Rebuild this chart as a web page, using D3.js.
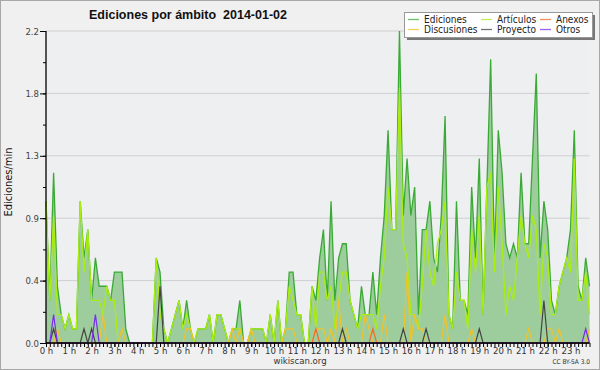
<!DOCTYPE html>
<html>
<head>
<meta charset="utf-8">
<script src="https://cdn.jsdelivr.net/npm/d3@7"></script>
<style>
  body { margin: 0; background: #f0f0f0; }
  svg { display: block; font-family: "DejaVu Sans", sans-serif; }
  .narrow { font-family: "DejaVu Sans Condensed", "DejaVu Sans", sans-serif; font-stretch: condensed; }
</style>
</head>
<body>
<svg id="chart" width="600" height="370"></svg>
<script>
// one value every 10 minutes, 144 slots for the day (edits/min)
const hourLabels = d3.range(0, 24).map(h => `${h} h`);
const yTicks = [0, 0.44, 0.88, 1.32, 1.76, 2.2];
const yTickLabels = ["0.0", "0.4", "0.9", "1.3", "1.8", "2.2"];

const ediciones = [
  1.0,0.3,1.2,0.4,0.2,0.1,0.2,0.1,0.1,1.0,0.6,0.8,
  0.3,0.6,0.4,0.4,0.4,0.3,0.5,0.5,0.5,0.1,0,0,
  0,0,0,0,0,0.6,0.5,0.1,0,0.1,0.2,0.3,
  0.1,0.3,0.1,0,0.1,0.1,0.1,0.2,0,0.2,0.2,0.1,
  0,0.1,0.1,0.3,0,0,0.1,0.1,0.1,0.1,0,0.2,
  0,0.3,0,0.1,0.5,0.5,0.2,0.2,0,0,0.4,0.3,
  0.6,0.8,0.3,1.0,0.3,0.6,0.7,0.7,0.3,0.2,0.1,0.4,
  0.2,0.2,0.5,0.2,0.6,0.9,1.5,0.8,0.8,2.2,0.9,1.3,
  0.9,1.1,0.2,0.8,0.8,1.0,0.6,0.5,0.9,1.6,0.2,0.1,
  1.0,0.3,0.3,0.2,1.1,0.6,1.3,0.2,1.1,2.0,0.6,1.5,
  1.2,0.7,0.6,0.7,0.6,1.2,0.7,0.7,1.3,1.9,0.6,1.0,
  0.8,0.3,0.2,0.4,0.5,0.6,0.8,1.5,0.4,0.3,0.6,0.4
];
const articulos = [
  1.0,0.3,0.9,0.2,0.2,0.1,0.2,0.1,0.1,1.0,0.5,0.8,
  0.3,0.3,0.3,0.2,0.4,0.3,0.3,0,0,0,0,0,
  0,0,0,0,0,0.6,0.2,0.1,0,0.1,0.2,0.3,
  0.1,0.2,0.1,0,0.1,0.1,0.1,0.2,0,0.2,0.2,0.1,
  0,0.1,0.1,0.1,0,0,0.1,0.1,0.1,0.1,0,0.2,
  0,0.3,0,0.1,0.4,0.3,0.2,0.2,0,0,0.4,0.1,
  0.5,0.5,0.3,0.4,0.1,0.3,0.5,0.5,0.3,0.2,0.1,0.2,
  0.2,0.2,0.2,0.1,0.4,0.6,1.1,0.8,0.8,1.8,0.7,0.6,
  0.2,0.2,0.1,0.4,0.8,0.5,0.4,0.7,0.8,1.0,0.2,0.1,
  0.5,0.3,0.3,0.1,0.8,0.5,0.9,0.2,1.1,1.2,0.5,1.1,
  0.7,0.2,0.4,0.3,0.6,0.9,0.7,0.6,0.9,0.8,0.2,0.7,
  0.6,0.2,0.2,0.4,0.5,0.6,0.5,1.3,0.3,0.3,0.5,0.2
];
const discusiones = [
  0,0,0,0.1,0,0,0,0,0,0,0,0,
  0,0,0,0.2,0,0,0,0,0.1,0,0,0,
  0,0,0,0,0,0,0,0,0,0,0,0,
  0,0.1,0.1,0,0,0,0,0,0,0,0,0,
  0,0.1,0,0.1,0,0,0.1,0,0,0,0,0,
  0,0,0,0.1,0.1,0.1,0,0,0,0,0,0.1,
  0.1,0.1,0,0.1,0,0.3,0,0.1,0,0,0,0,
  0.2,0.1,0,0,0,0.2,0,0,0,0,0,0.5,
  0,0.2,0.1,0.1,0,0,0,0,0,0.2,0,0,
  0,0,0,0,0.1,0,0,0,0,0,0,0,
  0,0,0,0,0,0,0,0.1,0,0,0,0,
  0.1,0.1,0,0.1,0,0,0,0,0,0,0,0.1
];
const proyecto = [
  0,0,0.1,0,0,0,0,0,0,0,0.1,0,
  0.1,0,0,0,0,0,0,0,0,0,0,0,
  0,0,0,0,0,0,0.4,0,0,0,0,0,
  0,0,0,0,0,0,0,0,0,0,0,0,
  0,0,0,0,0,0,0,0,0,0,0,0,
  0,0,0,0,0,0,0,0,0,0,0,0,
  0,0,0,0,0,0,0.1,0,0,0,0,0,
  0,0,0,0,0,0,0,0,0,0,0.1,0,
  0,0,0,0,0.1,0,0,0,0,0,0,0,
  0,0,0,0,0,0,0.1,0,0,0,0,0,
  0,0,0,0,0,0,0,0,0,0,0,0.3,
  0,0,0,0,0,0,0,0,0,0,0,0
];
const anexos = [
  0,0,0,0,0,0,0,0,0,0,0,0,
  0,0,0,0,0,0,0,0,0,0,0,0,
  0,0,0,0,0,0,0,0,0,0,0,0,
  0,0,0,0,0,0,0,0,0,0,0,0,
  0,0,0,0,0,0,0,0,0,0,0,0,
  0,0,0,0,0,0,0,0,0,0,0,0.1,
  0,0,0,0,0,0,0,0,0,0,0,0,
  0,0,0.1,0,0,0,0,0,0,0,0,0,
  0,0,0,0,0,0,0,0,0,0,0,0,
  0,0,0,0,0,0,0,0,0,0,0,0,
  0,0,0,0,0,0,0,0,0,0,0,0,
  0,0,0,0,0,0,0,0,0,0,0,0
];
const otros = [
  0,0,0.2,0,0,0,0,0,0,0,0,0,
  0,0.2,0,0,0,0,0,0,0,0,0,0,
  0,0,0,0,0,0,0,0,0,0,0,0,
  0,0,0,0,0,0,0,0,0,0,0,0,
  0,0,0,0,0,0,0,0,0,0,0,0,
  0,0,0,0,0,0,0,0,0,0,0,0,
  0,0,0,0,0,0,0,0,0,0,0,0,
  0,0,0,0,0,0,0,0,0,0,0,0,
  0,0,0,0,0,0,0,0,0,0,0,0,
  0,0,0,0,0,0,0,0,0,0,0,0,
  0,0,0,0,0,0,0,0,0,0,0,0,
  0,0,0,0,0,0,0,0,0,0,0.1,0
];

const seriesNames = ["Ediciones", "Artículos", "Anexos", "Discusiones", "Proyecto", "Otros"];
const seriesColors = {
  "Ediciones": "#3aaa35",
  "Artículos": "#aaee10",
  "Anexos": "#f06a2a",
  "Discusiones": "#f2c22a",
  "Proyecto": "#444444",
  "Otros": "#7a2cf0"
};

const svg = d3.select("#chart");
const W = 600, H = 370;
const plotLeft = 46, plotRight = 589.5, plotTop = 31, plotBottom = 343;

svg.append("rect").attr("x", 0.5).attr("y", 0.5).attr("width", W - 1).attr("height", H - 1)
  .attr("fill", "#f0f0f0").attr("stroke", "#a8a8a8");
svg.append("rect").attr("x", plotLeft).attr("y", plotTop)
  .attr("width", plotRight - plotLeft).attr("height", plotBottom - plotTop)
  .attr("fill", "#eeeff1");

const x = d3.scaleLinear().domain([0, 143]).range([plotLeft, plotRight]);
const y = d3.scaleLinear().domain([0, 2.2]).range([plotBottom, plotTop]);

// grid
svg.append("g").selectAll("line").data(yTicks.slice(1)).join("line")
  .attr("x1", plotLeft).attr("x2", plotRight)
  .attr("y1", d => y(d)).attr("y2", d => y(d))
  .attr("stroke", "#cfcfd2").attr("stroke-width", 1);

const idx = d3.range(144);
const area = d3.area().x(i => x(i)).y0(y(0)).y1(i => y(ediciones[i]));
const line = arr => d3.line().x(i => x(i)).y(i => y(arr[i]))(idx);

svg.append("path").attr("d", area(idx)).attr("fill", "#9dcd9d");
svg.append("path").attr("d", line(ediciones)).attr("fill", "none")
  .attr("stroke", seriesColors["Ediciones"]).attr("stroke-width", 1.3);
svg.append("path").attr("d", line(articulos)).attr("fill", "none")
  .attr("stroke", seriesColors["Artículos"]).attr("stroke-width", 1.3);
[[discusiones, "Discusiones"], [anexos, "Anexos"], [proyecto, "Proyecto"], [otros, "Otros"]].forEach(([arr, name]) => {
  svg.append("path").attr("d", line(arr)).attr("fill", "none")
    .attr("stroke", seriesColors[name]).attr("stroke-width", 1.2);
});

// axes
const yAxis = d3.axisLeft(y).tickValues(yTicks).tickSize(6).tickPadding(1)
  .tickFormat((d, i) => yTickLabels[i]);
const gy = svg.append("g").attr("transform", `translate(${plotLeft},0)`).call(yAxis);
gy.selectAll(".tick line").attr("stroke", "#000");
gy.select(".domain").attr("stroke", "#000").attr("stroke-width", 1.3).attr("d", `M0,${plotBottom}V${plotTop}`);
gy.selectAll("text").attr("class", "narrow").attr("font-size", 9.5).attr("fill", "#444");
svg.append("g").attr("transform", `translate(${plotLeft},0)`)
  .call(d3.axisLeft(y).tickValues(d3.range(11).map(k => k * 0.22)).tickSize(3).tickFormat(""))
  .call(g => g.select(".domain").remove());

const xAxis = d3.axisBottom(x).tickValues(idx.filter(i => i % 6 === 0)).tickSize(4).tickPadding(0)
  .tickFormat(i => hourLabels[i / 6]);
const gx = svg.append("g").attr("transform", `translate(0,${plotBottom})`).call(xAxis);
gx.select(".domain").attr("d", `M${plotLeft},0H${plotRight}`).attr("stroke", "#000").attr("stroke-width", 1.5);
gx.selectAll("text").attr("class", "narrow").attr("font-size", 9.5).attr("fill", "#333");
svg.append("g").attr("transform", `translate(0,${plotBottom})`)
  .call(d3.axisBottom(x).tickValues(idx).tickSize(4).tickFormat(""))
  .call(g => g.select(".domain").remove());

// titles
svg.append("text").attr("x", 188).attr("y", 19).attr("text-anchor", "middle")
  .style("white-space", "pre")
  .attr("font-family", "'Liberation Sans', Arial, sans-serif")
  .attr("font-size", 12.5).attr("font-weight", "bold").attr("fill", "#111")
  .text("Ediciones por ámbito  2014-01-02");
svg.append("text").attr("transform", "translate(12,182) rotate(-90)").attr("text-anchor", "middle")
  .attr("class", "narrow").attr("font-size", 11).attr("fill", "#111").text("Ediciones/min");
svg.append("text").attr("x", 300).attr("y", 364).attr("text-anchor", "middle")
  .attr("class", "narrow").attr("font-size", 9.5).attr("fill", "#333").text("wikiscan.org");
svg.append("text").attr("x", 590).attr("y", 364).attr("text-anchor", "end")
  .attr("class", "narrow").attr("font-size", 6.5).attr("fill", "#333").text("CC BY-SA 3.0");

// legend
const lg = svg.append("g");
lg.append("rect").attr("x", 407).attr("y", 15).attr("width", 188).attr("height", 25).attr("fill", "#777");
lg.append("rect").attr("x", 404.5).attr("y", 12.5).attr("width", 188).attr("height", 25)
  .attr("fill", "#fff").attr("stroke", "#999");
const legendPos = [[408, 23], [481, 23], [540, 23], [408, 33], [481, 33], [540, 33]];
seriesNames.forEach((name, k) => {
  const [lx, ly] = legendPos[k];
  lg.append("line").attr("x1", lx).attr("x2", lx + 11).attr("y1", ly - 3.5).attr("y2", ly - 3.5)
    .attr("stroke", seriesColors[name]).attr("stroke-width", 1.3).attr("opacity", 0.75);
  lg.append("text").attr("x", lx + 16).attr("y", ly).attr("class", "narrow")
    .attr("font-size", 10).attr("fill", "#222").text(name);
});
</script>
</body>
</html>
